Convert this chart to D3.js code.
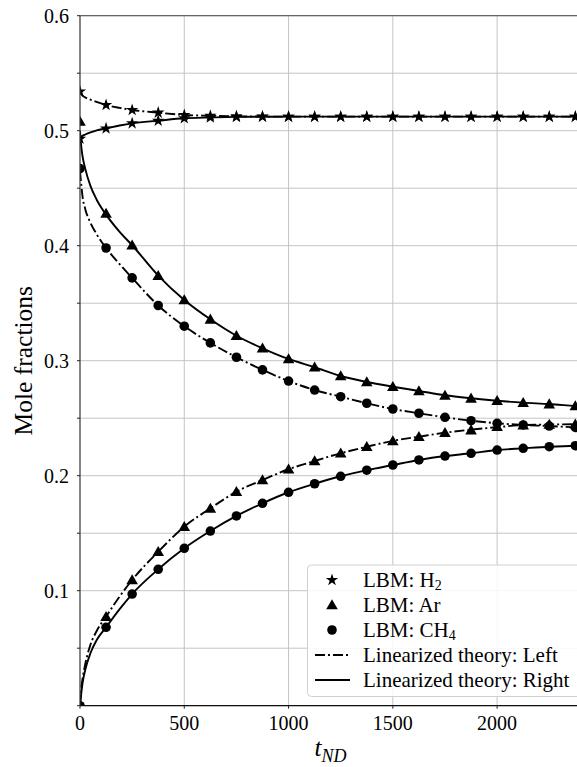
<!DOCTYPE html>
<html><head><meta charset="utf-8">
<script src="https://cdn.jsdelivr.net/npm/d3@7/dist/d3.min.js"></script>
<style>
html,body{margin:0;padding:0;background:#fff;}
</style></head>
<body><svg id="c" width="577" height="767" font-family="'Liberation Serif', 'Times New Roman', serif"></svg>
<script>
// ---- data ----
const xTicks = [0, 500, 1000, 1500, 2000];
const yTicks = [0, 0.1, 0.2, 0.3, 0.4, 0.5, 0.6];
const yMinorTicks = [0.05, 0.15, 0.25, 0.35, 0.45, 0.55];

// theory curves (linearized theory)
const tTheory = [0, 5, 12, 25, 50, 80, 125, 190, 250, 375, 500, 625, 750, 875, 1000, 1125, 1250, 1375, 1500, 1625, 1750, 1875, 2000, 2125, 2250, 2375, 2400];
const h2Left  = [0.534, 0.532, 0.5305, 0.529, 0.527, 0.525, 0.5223, 0.5198, 0.518, 0.5157, 0.5137, 0.513, 0.5125, 0.5123, 0.5122, 0.5122, 0.5122, 0.5122, 0.5122, 0.5122, 0.5122, 0.5122, 0.5122, 0.5122, 0.5122, 0.5122, 0.5122];
const h2Right = [0.493, 0.4945, 0.4955, 0.4967, 0.4985, 0.5003, 0.502, 0.5045, 0.5064, 0.5087, 0.5108, 0.5115, 0.512, 0.5121, 0.5122, 0.5122, 0.5122, 0.5122, 0.5122, 0.5122, 0.5122, 0.5122, 0.5122, 0.5122, 0.5122, 0.5122, 0.5122];
const arLeft  = [0, 0.013, 0.023, 0.036, 0.053, 0.065, 0.0774, 0.095, 0.1093, 0.1339, 0.1557, 0.1716, 0.1861, 0.1963, 0.2056, 0.2128, 0.2195, 0.2252, 0.2303, 0.2339, 0.2374, 0.2400, 0.2422, 0.2440, 0.2445, 0.2448, 0.2449];
const arRight = [0.50, 0.488, 0.478, 0.467, 0.452, 0.44, 0.427, 0.412, 0.4004, 0.374, 0.3528, 0.336, 0.3217, 0.3108, 0.3015, 0.2943, 0.2867, 0.2815, 0.2774, 0.2737, 0.2699, 0.2673, 0.2652, 0.2635, 0.2623, 0.2606, 0.2603];
const ch4Left = [0.465, 0.455, 0.443, 0.432, 0.42, 0.41, 0.398, 0.384, 0.372, 0.348, 0.330, 0.3155, 0.303, 0.292, 0.2823, 0.2745, 0.2687, 0.263, 0.258, 0.2543, 0.2508, 0.2478, 0.2456, 0.2441, 0.2432, 0.2420, 0.2418];
const ch4Right= [0, 0.009, 0.0195, 0.031, 0.0456, 0.0571, 0.0682, 0.084, 0.0971, 0.1186, 0.1369, 0.1519, 0.165, 0.176, 0.1856, 0.193, 0.1995, 0.2048, 0.2093, 0.2137, 0.2171, 0.2195, 0.2223, 0.2238, 0.2252, 0.2261, 0.2262];

// LBM markers
const tLBM = [0, 125, 250, 375, 500, 625, 750, 875, 1000, 1125, 1250, 1375, 1500, 1625, 1750, 1875, 2000, 2125, 2250, 2375];
const lbmH2Left  = [0.534, 0.5223, 0.518, 0.5157, 0.5137, 0.513, 0.5125, 0.5123, 0.5122, 0.5122, 0.5122, 0.5122, 0.5122, 0.5122, 0.5122, 0.5122, 0.5122, 0.5122, 0.5122, 0.5122];
const lbmH2Right = [0.493, 0.502, 0.5064, 0.5087, 0.5108, 0.5115, 0.512, 0.5121, 0.5122, 0.5122, 0.5122, 0.5122, 0.5122, 0.5122, 0.5122, 0.5122, 0.5122, 0.5122, 0.5122, 0.5122];
const lbmArLeft  = [0, 0.0774, 0.1093, 0.1339, 0.1557, 0.1716, 0.1861, 0.1963, 0.2056, 0.2128, 0.2195, 0.2252, 0.2303, 0.2339, 0.2374, 0.2397, 0.2426, 0.2440, 0.2445, 0.2448];
const lbmArRight = [0.508, 0.428, 0.4004, 0.374, 0.3528, 0.336, 0.3217, 0.3108, 0.3015, 0.2943, 0.2867, 0.2815, 0.2774, 0.2737, 0.2699, 0.2673, 0.2652, 0.2635, 0.2623, 0.2606];
const lbmCH4Left = [0.467, 0.398, 0.372, 0.348, 0.330, 0.3155, 0.303, 0.292, 0.2823, 0.2745, 0.2687, 0.263, 0.258, 0.2543, 0.2508, 0.2478, 0.2456, 0.2441, 0.2432, 0.2420];
const lbmCH4Right= [0, 0.0682, 0.0971, 0.1186, 0.1369, 0.1519, 0.165, 0.176, 0.1856, 0.193, 0.1995, 0.2048, 0.2093, 0.2137, 0.2171, 0.2195, 0.2223, 0.2238, 0.2252, 0.2261];

const legendLabels = [
  {kind:"star", main:"LBM: H", sub:"2"},
  {kind:"tri", main:"LBM: Ar", sub:""},
  {kind:"circ", main:"LBM: CH", sub:"4"},
  {kind:"dashdot", main:"Linearized theory: Left", sub:""},
  {kind:"solid", main:"Linearized theory: Right", sub:""}
];

// ---- layout ----
const FONT = "'Liberation Serif', 'Times New Roman', serif";
const L = 80, R = 577, T = 15.7, B = 705.7;
const x = d3.scaleLinear().domain([0, 2383]).range([L, R]);
const y = d3.scaleLinear().domain([0, 0.6]).range([B, T]);
const svg = d3.select("#c");
const DASH = "10,3,2,3";

svg.append("defs").append("clipPath").attr("id","clip")
  .append("rect").attr("x", L).attr("y", T).attr("width", R - L).attr("height", B - T);

// grid
const grid = svg.append("g");
grid.selectAll(".gy").data(yTicks.concat(yMinorTicks)).join("line")
  .attr("x1", L).attr("x2", R).attr("y1", d => y(d)).attr("y2", d => y(d))
  .attr("stroke", "#c4c4c4").attr("stroke-width", 1);
grid.selectAll(".gx").data(xTicks.slice(1)).join("line")
  .attr("x1", d => x(d)).attr("x2", d => x(d)).attr("y1", T).attr("y2", B)
  .attr("stroke", "#c4c4c4").attr("stroke-width", 1);

// curves
const plot = svg.append("g").attr("clip-path", "url(#clip)");
const line = d3.line().x(d => x(d[0])).y(d => y(d[1])).curve(d3.curveMonotoneX);
const theory = [
  {v: h2Left, dash: true}, {v: h2Right, dash: false},
  {v: arLeft, dash: true}, {v: arRight, dash: false},
  {v: ch4Left, dash: true}, {v: ch4Right, dash: false}
];
theory.forEach(s => {
  plot.append("path").datum(tTheory.map((t, i) => [t, s.v[i]]))
    .attr("d", line).attr("fill", "none").attr("stroke", "#000")
    .attr("stroke-width", 1.9)
    .attr("stroke-dasharray", s.dash ? DASH : null);
});

// markers
const sym = {
  star: d3.symbol().type(d3.symbolStar).size(48),
  tri: d3.symbol().type(d3.symbolTriangle).size(58),
  circ: d3.symbol().type(d3.symbolCircle).size(72)
};
const markerSets = [
  {v: lbmH2Left, k: "star"}, {v: lbmH2Right, k: "star"},
  {v: lbmArLeft, k: "tri"}, {v: lbmArRight, k: "tri"},
  {v: lbmCH4Left, k: "circ"}, {v: lbmCH4Right, k: "circ"}
];
markerSets.forEach(s => {
  plot.append("g").selectAll("path").data(tLBM.map((t, i) => [t, s.v[i]])).join("path")
    .attr("d", sym[s.k]())
    .attr("transform", d => `translate(${x(d[0])},${y(d[1]) + (s.k === "tri" ? 1 : 0)})`)
    .attr("fill", "#000");
});

// spines
svg.append("line").attr("x1", L).attr("x2", R).attr("y1", T).attr("y2", T).attr("stroke", "#666").attr("stroke-width", 1.2);
svg.append("line").attr("x1", L).attr("x2", L).attr("y1", T).attr("y2", B).attr("stroke", "#333").attr("stroke-width", 1.2);
svg.append("line").attr("x1", L).attr("x2", R).attr("y1", B).attr("y2", B).attr("stroke", "#111").attr("stroke-width", 1.2);

// y axis ticks & labels
svg.append("g").selectAll("line").data(yTicks.concat(yMinorTicks)).join("line")
  .attr("x1", L - 3).attr("x2", L).attr("y1", d => y(d)).attr("y2", d => y(d))
  .attr("stroke", "#222").attr("stroke-width", 1);
svg.append("g").selectAll("text").data(yTicks.slice(1)).join("text")
  .attr("x", L - 11).attr("y", d => y(d) + 7)
  .attr("font-family", FONT)
  .attr("text-anchor", "end").attr("font-size", 20)
  .text(d => d3.format(".1f")(d));
// x axis ticks & labels
svg.append("g").selectAll("line").data(xTicks).join("line")
  .attr("x1", d => x(d)).attr("x2", d => x(d)).attr("y1", B).attr("y2", B + 3)
  .attr("stroke", "#222").attr("stroke-width", 1);
svg.append("g").selectAll("text").data(xTicks).join("text")
  .attr("x", d => x(d)).attr("y", B + 24)
  .attr("font-family", FONT)
  .attr("text-anchor", "middle").attr("font-size", 20)
  .text(d => d);

// axis titles
svg.append("text").attr("transform", `translate(32,${(T + B) / 2}) rotate(-90)`)
  .attr("font-family", FONT)
  .attr("text-anchor", "middle").attr("font-size", 25.5).text("Mole fractions");
const xt = svg.append("text").attr("x", (L + R) / 2 - 14).attr("y", 756)
  .attr("font-family", FONT)
  .attr("font-size", 25).attr("font-style", "italic");
xt.append("tspan").text("t");
xt.append("tspan").attr("dy", 6).attr("font-size", 18).text("ND");

// legend
const lg = svg.append("g");
lg.append("rect").attr("x", 307.5).attr("y", 565).attr("width", 290).attr("height", 131.5)
  .attr("rx", 4).attr("fill", "#fff").attr("fill-opacity", 0.85)
  .attr("stroke", "#d0d0d0").attr("stroke-width", 1);
legendLabels.forEach((e, i) => {
  const cy = 580 + i * 25;
  if (e.kind === "dashdot" || e.kind === "solid") {
    lg.append("line").attr("x1", 315).attr("x2", 350).attr("y1", cy).attr("y2", cy)
      .attr("stroke", "#000").attr("stroke-width", 1.9)
      .attr("stroke-dasharray", e.kind === "dashdot" ? DASH : null);
  } else {
    lg.append("path").attr("d", sym[e.kind]())
      .attr("transform", `translate(332,${cy + (e.kind === "tri" ? 1 : 0)})`).attr("fill", "#000");
  }
  const t = lg.append("text").attr("x", 363).attr("y", cy + 7)
    .attr("font-family", FONT).attr("font-size", 21);
  t.append("tspan").text(e.main);
  if (e.sub) t.append("tspan").attr("dy", 3).attr("font-size", 14).text(e.sub);
});
</script></body></html>
